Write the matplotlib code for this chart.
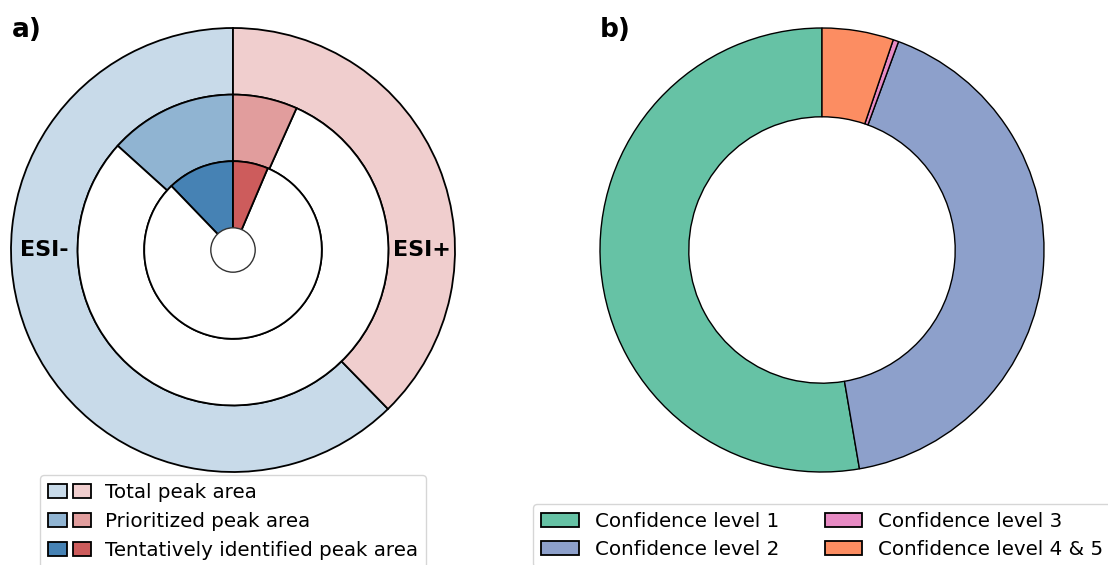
import numpy as np
import matplotlib.pyplot as plt
from matplotlib.patches import Patch, Circle
from matplotlib.legend_handler import HandlerTuple

# ring data (percent of total peak area), ESI- first then ESI+
total = [62.3, 37.7]
prioritized = [13.3, 6.7]
tentative = [12.2, 6.4]
ring_labels = ['Total peak area', 'Prioritized peak area', 'Tentatively identified peak area']

conf_labels = ['Confidence level 1', 'Confidence level 2', 'Confidence level 3', 'Confidence level 4 & 5']
conf_values = [52.7, 41.7, 0.4, 5.2]

blue = (70/255, 130/255, 180/255)
red = (205/255, 92/255, 92/255)

def mix(c, a):
    return tuple(a*x + (1-a) for x in c)

alphas = [0.3, 0.6, 1.0]

W, H = 1108, 565
fig = plt.figure(figsize=(W/100, H/100), dpi=100)

R = 222
ax1 = fig.add_axes([(233-R)/W, (H-250-R)/H, 2*R/W, 2*R/H])
ax2 = fig.add_axes([(822-R)/W, (H-250-R)/H, 2*R/W, 2*R/H])

wp = dict(edgecolor='black', linewidth=1.3)

# outer ring
ax1.pie(total, radius=1.0, startangle=90,
        colors=[mix(blue, 0.3), mix(red, 0.3)],
        wedgeprops=dict(width=0.3, **wp))
# middle ring
rest = 100 - sum(prioritized)
ax1.pie([prioritized[0], rest, prioritized[1]], radius=0.7, startangle=90,
        colors=[mix(blue, 0.6), 'white', mix(red, 0.6)],
        wedgeprops=dict(width=0.3, **wp))
# inner ring
rest = 100 - sum(tentative)
ax1.pie([tentative[0], rest, tentative[1]], radius=0.4, startangle=90,
        colors=[blue, 'white', red], wedgeprops=dict(**wp))
ax1.add_patch(Circle((0, 0), 0.1, facecolor='white', edgecolor='#333333', linewidth=1.0, zorder=5))
ax1.set_xlim(-1, 1)
ax1.set_ylim(-1, 1)
ax1.set_aspect('equal')
ax1.axis('off')

ax1.text(-0.85, 0, 'ESI-', fontsize=16, fontweight='bold', ha='center', va='center')
ax1.text(0.85, 0, 'ESI+', fontsize=16, fontweight='bold', ha='center', va='center')

handles = []
for a in alphas:
    handles.append((Patch(facecolor=mix(blue, a), edgecolor='black', linewidth=1.3),
                    Patch(facecolor=mix(red, a), edgecolor='black', linewidth=1.3)))
ax1.legend(handles, ring_labels, handler_map={tuple: HandlerTuple(ndivide=None, pad=0.3)},
           loc='upper left', bbox_to_anchor=(0.065, -0.007), fontsize=14.3,
           handlelength=2.2, handleheight=0.7, labelspacing=0.5, borderaxespad=0,
           handletextpad=0.7)

colors2 = ['#66c2a5', '#8da0cb', '#e78ac3', '#fc8d62']
ax2.pie(conf_values, radius=1.0, startangle=90, colors=colors2,
        wedgeprops=dict(width=0.4, edgecolor='black', linewidth=1.0))
ax2.set_xlim(-1, 1)
ax2.set_ylim(-1, 1)
ax2.set_aspect('equal')
ax2.axis('off')

h2 = [Patch(facecolor=c, edgecolor='black', linewidth=1.3) for c in colors2]
ax2.legend(h2, conf_labels, ncol=2, loc='upper left', bbox_to_anchor=(-0.151, -0.072),
           fontsize=14.3, handlelength=1.9, labelspacing=0.45, columnspacing=2.3,
           borderaxespad=0)

fig.text(12/W, 1-30/H, 'a)', fontsize=19, fontweight='bold', va='center')
fig.text(600/W, 1-30/H, 'b)', fontsize=19, fontweight='bold', va='center')

fig.savefig('out.png', dpi=100)
